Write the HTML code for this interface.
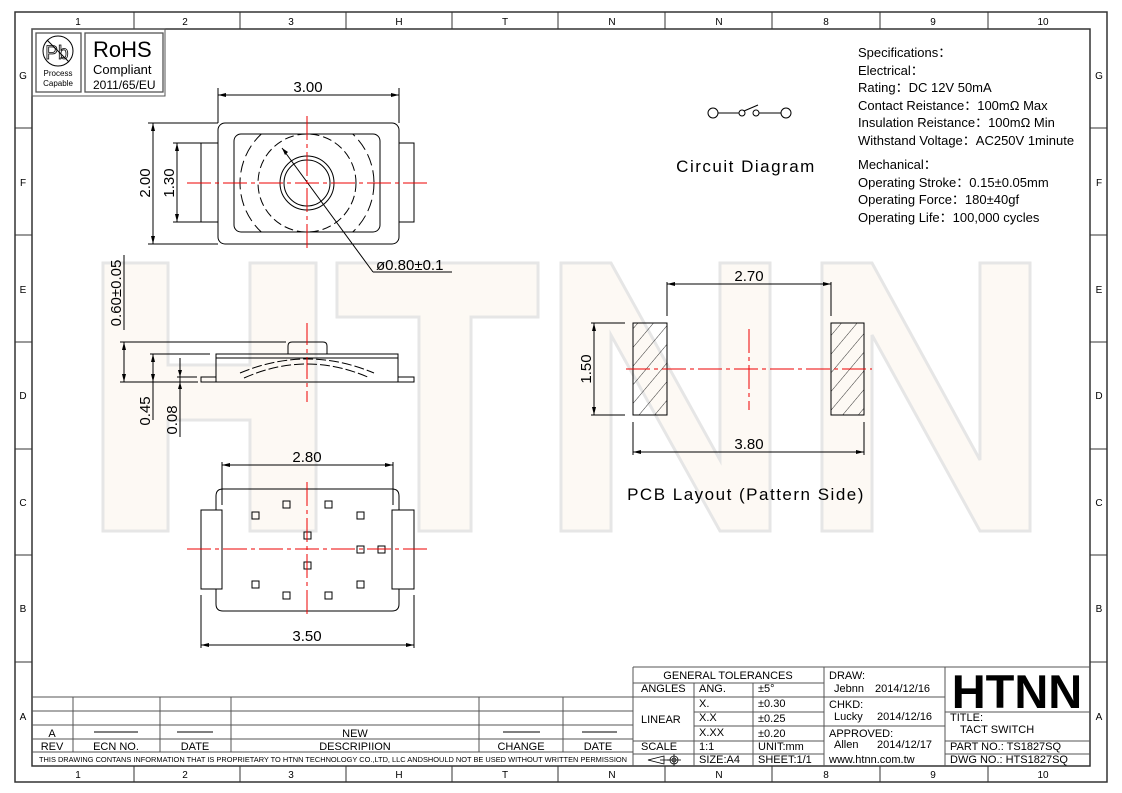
<!DOCTYPE html>
<html><head><meta charset="utf-8"><style>
html,body{margin:0;padding:0;background:#fff;}
svg{display:block;}
text{font-family:"Liberation Sans",sans-serif;fill:#000;}
</style></head><body>
<svg width="1122" height="793" viewBox="0 0 1122 793" xmlns="http://www.w3.org/2000/svg">
<defs>
<pattern id="hatch" patternUnits="userSpaceOnUse" width="12" height="12" patternTransform="rotate(40)">
<line x1="0" y1="0" x2="0" y2="12" stroke="#000" stroke-width="0.8"/>
</pattern>
<clipPath id="inr"><rect x="234" y="134" width="146" height="98" rx="7"/></clipPath>
</defs>
<!-- watermark -->
<g fill="#fdf9f4" stroke="#e6e6e6" stroke-width="3">
<path d="M103 263 H168 V365 H250 V263 H316 V531 H250 V420 H168 V531 H103 Z"/>
<path d="M337 263 H538 V317 H471 V531 H419 V317 H337 Z"/>
<path d="M561 263 H611 L720 460 V263 H770 V531 H720 L611 335 V531 H561 Z"/>
<path d="M822 263 H872 L980 460 V263 H1030 V531 H980 L872 335 V531 H822 Z"/>
</g>
<!-- frame -->
<rect x="15" y="12" width="1092" height="770" fill="none" stroke="#333" stroke-width="1.5"/>
<rect x="32" y="29" width="1058" height="737" fill="none" stroke="#333" stroke-width="1.5"/>
<g stroke="#333" stroke-width="1">
<line x1="134" y1="12" x2="134" y2="29"/><line x1="240" y1="12" x2="240" y2="29"/><line x1="346" y1="12" x2="346" y2="29"/><line x1="452" y1="12" x2="452" y2="29"/><line x1="558" y1="12" x2="558" y2="29"/><line x1="665" y1="12" x2="665" y2="29"/><line x1="772" y1="12" x2="772" y2="29"/><line x1="880" y1="12" x2="880" y2="29"/><line x1="988" y1="12" x2="988" y2="29"/>
<line x1="134" y1="766" x2="134" y2="782"/><line x1="240" y1="766" x2="240" y2="782"/><line x1="346" y1="766" x2="346" y2="782"/><line x1="452" y1="766" x2="452" y2="782"/><line x1="558" y1="766" x2="558" y2="782"/><line x1="665" y1="766" x2="665" y2="782"/><line x1="772" y1="766" x2="772" y2="782"/><line x1="880" y1="766" x2="880" y2="782"/><line x1="988" y1="766" x2="988" y2="782"/>
<line x1="15" y1="128" x2="32" y2="128"/><line x1="15" y1="235" x2="32" y2="235"/><line x1="15" y1="342" x2="32" y2="342"/><line x1="15" y1="449" x2="32" y2="449"/><line x1="15" y1="555" x2="32" y2="555"/><line x1="15" y1="662" x2="32" y2="662"/>
<line x1="1090" y1="128" x2="1107" y2="128"/><line x1="1090" y1="235" x2="1107" y2="235"/><line x1="1090" y1="342" x2="1107" y2="342"/><line x1="1090" y1="449" x2="1107" y2="449"/><line x1="1090" y1="555" x2="1107" y2="555"/><line x1="1090" y1="662" x2="1107" y2="662"/>
</g>
<g font-size="10" text-anchor="middle">
<text x="78" y="25">1</text><text x="185" y="25">2</text><text x="291" y="25">3</text><text x="399" y="25">H</text><text x="505" y="25">T</text><text x="612" y="25">N</text><text x="719" y="25">N</text><text x="826" y="25">8</text><text x="933" y="25">9</text><text x="1043" y="25">10</text>
<text x="78" y="778">1</text><text x="185" y="778">2</text><text x="291" y="778">3</text><text x="399" y="778">H</text><text x="505" y="778">T</text><text x="612" y="778">N</text><text x="719" y="778">N</text><text x="826" y="778">8</text><text x="933" y="778">9</text><text x="1043" y="778">10</text>
<text x="23" y="79">G</text><text x="23" y="186">F</text><text x="23" y="293">E</text><text x="23" y="399">D</text><text x="23" y="506">C</text><text x="23" y="612">B</text><text x="23" y="720">A</text>
<text x="1099" y="79">G</text><text x="1099" y="186">F</text><text x="1099" y="293">E</text><text x="1099" y="399">D</text><text x="1099" y="506">C</text><text x="1099" y="612">B</text><text x="1099" y="720">A</text>
</g>
<!-- RoHS -->
<rect x="32" y="29" width="133" height="67" fill="none" stroke="#555" stroke-width="1"/>
<rect x="36" y="33" width="45" height="59" fill="none" stroke="#555" stroke-width="1.3"/>
<rect x="85" y="33" width="78" height="59" fill="none" stroke="#555" stroke-width="1.3"/>
<circle cx="58" cy="51" r="15" fill="none" stroke="#000" stroke-width="1"/>
<text x="57" y="59" font-size="19" text-anchor="middle" style="fill:none;stroke:#000;stroke-width:0.8">Pb</text>
<line x1="47" y1="40" x2="69" y2="62" stroke="#000" stroke-width="1"/>
<text x="58" y="76" font-size="8" text-anchor="middle">Process</text>
<text x="58" y="86" font-size="8" text-anchor="middle">Capable</text>
<text x="93" y="57" font-size="22">RoHS</text>
<text x="93" y="74" font-size="13">Compliant</text>
<text x="93" y="89" font-size="12">2011/65/EU</text>
<!-- Specs -->
<g font-size="13">
<text x="858" y="57">Specifications：</text>
<text x="858" y="75">Electrical：</text>
<text x="858" y="92">Rating：DC 12V 50mA</text>
<text x="858" y="110">Contact Reistance：100mΩ Max</text>
<text x="858" y="127">Insulation Reistance：100mΩ Min</text>
<text x="858" y="145">Withstand Voltage：AC250V 1minute</text>
<text x="858" y="169">Mechanical：</text>
<text x="858" y="187">Operating Stroke：0.15±0.05mm</text>
<text x="858" y="204">Operating Force：180±40gf</text>
<text x="858" y="222">Operating Life：100,000 cycles</text>
</g>
<!-- circuit -->
<g stroke="#000" stroke-width="1" fill="none">
<circle cx="713" cy="113" r="5"/><circle cx="742" cy="113" r="3"/><circle cx="756" cy="113" r="3"/><circle cx="786" cy="113" r="5"/>
<line x1="718" y1="113" x2="739" y2="113"/><line x1="759" y1="113" x2="781" y2="113"/><line x1="744" y1="111" x2="758" y2="105"/>
</g>
<text x="746" y="172" font-size="17" text-anchor="middle" letter-spacing="1.5">Circuit Diagram</text>
<!-- Top view -->
<g stroke="#000" stroke-width="1" fill="none">
<rect x="218" y="123" width="181" height="121" rx="7"/>
<rect x="234" y="134" width="146" height="98" rx="7"/>
<rect x="201" y="143" width="17" height="79"/>
<rect x="399" y="143" width="15" height="79"/>
<circle cx="307" cy="183" r="27"/><circle cx="307" cy="183" r="23"/>
<circle cx="307" cy="183" r="49" stroke-dasharray="9 4"/>
<circle cx="307" cy="183" r="67" stroke-dasharray="12 5" clip-path="url(#inr)"/>
<line x1="282" y1="148" x2="373" y2="272"/><line x1="373" y1="272" x2="452" y2="272"/>
<line x1="218" y1="95" x2="399" y2="95"/><line x1="218" y1="88" x2="218" y2="123"/><line x1="399" y1="88" x2="399" y2="123"/>
<line x1="153" y1="123" x2="153" y2="244"/><line x1="148" y1="123" x2="218" y2="123"/><line x1="148" y1="244" x2="218" y2="244"/>
<line x1="177" y1="143" x2="177" y2="222"/><line x1="173" y1="143" x2="201" y2="143"/><line x1="173" y1="222" x2="201" y2="222"/>
</g>
<g fill="#000">
<path d="M218 95 l8 -2 v4z"/><path d="M399 95 l-8 -2 v4z"/>
<path d="M153 123 l-2 8 h4z"/><path d="M153 244 l-2 -8 h4z"/>
<path d="M177 143 l-2 8 h4z"/><path d="M177 222 l-2 -8 h4z"/>
<path d="M282 148 l3 7 l3 -3z"/>
</g>
<g stroke="#e00" stroke-width="1" stroke-dasharray="24 4 4 4">
<line x1="187" y1="183" x2="428" y2="183"/><line x1="307" y1="116" x2="307" y2="250"/>
</g>
<g font-size="15">
<text x="308" y="92" text-anchor="middle">3.00</text>
<text transform="translate(150,183) rotate(-90)" text-anchor="middle">2.00</text>
<text transform="translate(174,183) rotate(-90)" text-anchor="middle">1.30</text>
<text x="376" y="270">ø0.80±0.1</text>
</g>
<!-- side view -->
<g stroke="#000" stroke-width="1" fill="none">
<rect x="216" y="354" width="182" height="28"/>
<line x1="216" y1="358" x2="398" y2="358"/>
<rect x="201" y="377" width="15" height="5"/><rect x="398" y="377" width="16" height="5"/>
<path d="M288 354 V346 Q288 342 292 342 H323 Q327 342 327 346 V354"/>
<path d="M240 373 Q307 345 374 373" stroke-dasharray="10 3"/>
<path d="M244 378 Q307 350 370 378" stroke-dasharray="10 3"/>
<line x1="120" y1="342" x2="286" y2="342"/>
<line x1="120" y1="382" x2="198" y2="382"/>
<line x1="124" y1="342" x2="124" y2="382"/>
<line x1="124" y1="255" x2="124" y2="330"/>
<line x1="150" y1="354" x2="210" y2="354"/>
<line x1="153" y1="354" x2="153" y2="420"/>
<line x1="177" y1="377" x2="197" y2="377"/>
<line x1="180" y1="358" x2="180" y2="437"/>
</g>
<g fill="#000">
<path d="M124 342 l-2 8 h4z"/><path d="M124 382 l-2 -8 h4z"/>
<path d="M153 354 l-2 8 h4z"/><path d="M153 382 l-2 -8 h4z"/>
<path d="M180 377 l-2 -7 h4z"/><path d="M180 382 l-2 7 h4z"/>
</g>
<line x1="307" y1="323" x2="307" y2="402" stroke="#e00" stroke-dasharray="22 4 4 4"/>
<g font-size="15">
<text transform="translate(121,293) rotate(-90)" text-anchor="middle">0.60±0.05</text>
<text transform="translate(150,411) rotate(-90)" text-anchor="middle">0.45</text>
<text transform="translate(177,420) rotate(-90)" text-anchor="middle">0.08</text>
</g>
<!-- bottom view -->
<g stroke="#000" stroke-width="1" fill="none">
<path d="M216 510 V496 Q216 489 223 489 H392 Q399 489 399 496 V510"/>
<path d="M216 589 V604 Q216 611 223 611 H392 Q399 611 399 604 V589"/>
<rect x="201" y="510" width="21" height="79"/><rect x="392" y="510" width="22" height="79"/>
<rect x="252" y="512" width="7" height="7"/><rect x="283" y="501" width="7" height="7"/><rect x="325" y="501" width="7" height="7"/><rect x="357" y="512" width="7" height="7"/>
<rect x="304" y="532" width="7" height="7"/><rect x="357" y="546" width="7" height="7"/><rect x="378" y="546" width="7" height="7"/><rect x="304" y="562" width="7" height="7"/>
<rect x="252" y="581" width="7" height="7"/><rect x="283" y="592" width="7" height="7"/><rect x="325" y="592" width="7" height="7"/><rect x="357" y="581" width="7" height="7"/>
<line x1="222" y1="465" x2="393" y2="465"/><line x1="222" y1="462" x2="222" y2="505"/><line x1="393" y1="462" x2="393" y2="505"/>
<line x1="201" y1="645" x2="414" y2="645"/><line x1="201" y1="595" x2="201" y2="648"/><line x1="414" y1="595" x2="414" y2="648"/>
</g>
<g fill="#000">
<path d="M222 465 l8 -2 v4z"/><path d="M393 465 l-8 -2 v4z"/>
<path d="M201 645 l8 -2 v4z"/><path d="M414 645 l-8 -2 v4z"/>
</g>
<g stroke="#e00" stroke-width="1" stroke-dasharray="24 4 4 4">
<line x1="187" y1="549" x2="428" y2="549"/><line x1="307" y1="482" x2="307" y2="616"/>
</g>
<g font-size="15" text-anchor="middle">
<text x="307" y="462">2.80</text><text x="307" y="641">3.50</text>
</g>
<!-- PCB -->
<g stroke="#000" stroke-width="1">
<rect x="633" y="323" width="34" height="92" fill="url(#hatch)"/>
<rect x="831" y="323" width="33" height="92" fill="url(#hatch)"/>
<g fill="none">
<line x1="667" y1="284" x2="831" y2="284"/><line x1="667" y1="282" x2="667" y2="316"/><line x1="831" y1="282" x2="831" y2="316"/>
<line x1="594" y1="323" x2="594" y2="415"/><line x1="591" y1="323" x2="625" y2="323"/><line x1="591" y1="415" x2="625" y2="415"/>
<line x1="633" y1="452" x2="864" y2="452"/><line x1="633" y1="422" x2="633" y2="455"/><line x1="864" y1="422" x2="864" y2="455"/>
</g>
</g>
<g fill="#000">
<path d="M667 284 l8 -2 v4z"/><path d="M831 284 l-8 -2 v4z"/>
<path d="M594 323 l-2 8 h4z"/><path d="M594 415 l-2 -8 h4z"/>
<path d="M633 452 l8 -2 v4z"/><path d="M864 452 l-8 -2 v4z"/>
</g>
<g stroke="#e00" stroke-width="1" stroke-dasharray="24 4 4 4">
<line x1="626" y1="369" x2="872" y2="369"/><line x1="749" y1="329" x2="749" y2="410"/>
</g>
<g font-size="15" text-anchor="middle">
<text x="749" y="281">2.70</text><text x="749" y="449">3.80</text>
<text transform="translate(591,369) rotate(-90)">1.50</text>
</g>
<text x="746" y="500" font-size="17" text-anchor="middle" letter-spacing="1.5">PCB Layout (Pattern Side)</text>
<!-- rev table -->
<g stroke="#555" stroke-width="1" fill="none">
<line x1="32" y1="697" x2="633" y2="697"/>
<line x1="32" y1="711" x2="633" y2="711"/>
<line x1="32" y1="725" x2="633" y2="725"/>
<line x1="32" y1="739" x2="633" y2="739"/>
<line x1="32" y1="752" x2="633" y2="752"/>
<line x1="73" y1="697" x2="73" y2="752"/><line x1="160" y1="697" x2="160" y2="752"/><line x1="231" y1="697" x2="231" y2="752"/><line x1="479" y1="697" x2="479" y2="752"/><line x1="563" y1="697" x2="563" y2="752"/>
<line x1="633" y1="667" x2="633" y2="766"/>
<line x1="633" y1="667" x2="1090" y2="667"/>
<line x1="633" y1="683" x2="824" y2="683"/>
<line x1="633" y1="697" x2="945" y2="697"/>
<line x1="694" y1="712" x2="824" y2="712"/>
<line x1="694" y1="726" x2="945" y2="726"/>
<line x1="633" y1="741" x2="824" y2="741"/>
<line x1="945" y1="712" x2="1090" y2="712"/>
<line x1="945" y1="741" x2="1090" y2="741"/>
<line x1="633" y1="754" x2="824" y2="754"/>
<line x1="945" y1="754" x2="1090" y2="754"/>
<line x1="694" y1="683" x2="694" y2="766"/><line x1="753" y1="683" x2="753" y2="766"/>
<line x1="824" y1="667" x2="824" y2="766"/><line x1="945" y1="667" x2="945" y2="766"/>
</g>
<g stroke="#000" stroke-width="1">
<line x1="94" y1="732" x2="138" y2="732"/><line x1="177" y1="732" x2="213" y2="732"/><line x1="503" y1="732" x2="540" y2="732"/><line x1="582" y1="732" x2="617" y2="732"/>
</g>
<g font-size="11" text-anchor="middle">
<text x="52" y="737">A</text><text x="355" y="737">NEW</text>
<text x="52" y="750">REV</text><text x="116" y="750">ECN NO.</text><text x="195" y="750">DATE</text><text x="355" y="750">DESCRIPIION</text><text x="521" y="750">CHANGE</text><text x="598" y="750">DATE</text>
</g>
<text x="333" y="762" font-size="7" text-anchor="middle" textLength="588" lengthAdjust="spacingAndGlyphs">THIS DRAWING CONTANS INFORMATION THAT IS PROPRIETARY TO HTNN TECHNOLOGY CO.,LTD, LLC ANDSHOULD NOT BE USED WITHOUT WRITTEN PERMISSION</text>
<g font-size="11">
<text x="728" y="679" text-anchor="middle">GENERAL TOLERANCES</text>
<text x="641" y="692">ANGLES</text><text x="699" y="692">ANG.</text><text x="758" y="692">±5°</text>
<text x="699" y="707">X.</text><text x="758" y="707">±0.30</text>
<text x="641" y="723">LINEAR</text><text x="699" y="721">X.X</text><text x="758" y="722">±0.25</text>
<text x="699" y="736">X.XX</text><text x="758" y="737">±0.20</text>
<text x="641" y="750">SCALE</text><text x="699" y="750">1:1</text><text x="758" y="750">UNIT:mm</text>
<text x="699" y="763">SIZE:A4</text><text x="758" y="763">SHEET:1/1</text>
<text x="829" y="679">DRAW:</text><text x="834" y="692">Jebnn</text><text x="875" y="692">2014/12/16</text>
<text x="829" y="708">CHKD:</text><text x="834" y="720">Lucky</text><text x="877" y="720">2014/12/16</text>
<text x="829" y="737">APPROVED:</text><text x="834" y="748">Allen</text><text x="877" y="748">2014/12/17</text>
<text x="829" y="763">www.htnn.com.tw</text>
<text x="950" y="721">TITLE:</text><text x="960" y="733">TACT SWITCH</text>
<text x="950" y="750">PART NO.: TS1827SQ</text>
<text x="950" y="763">DWG  NO.: HTS1827SQ</text>
</g>
<g stroke="#000" stroke-width="0.8" fill="none">
<path d="M648 760 L664 756 V764 Z"/><line x1="660" y1="760" x2="670" y2="760"/>
<circle cx="674" cy="760" r="4"/><circle cx="674" cy="760" r="2"/><line x1="667" y1="760" x2="681" y2="760"/><line x1="674" y1="754" x2="674" y2="766"/>
</g>
<text x="1017" y="708" font-size="47" font-weight="bold" text-anchor="middle">HTNN</text>
</svg>
</body></html>
